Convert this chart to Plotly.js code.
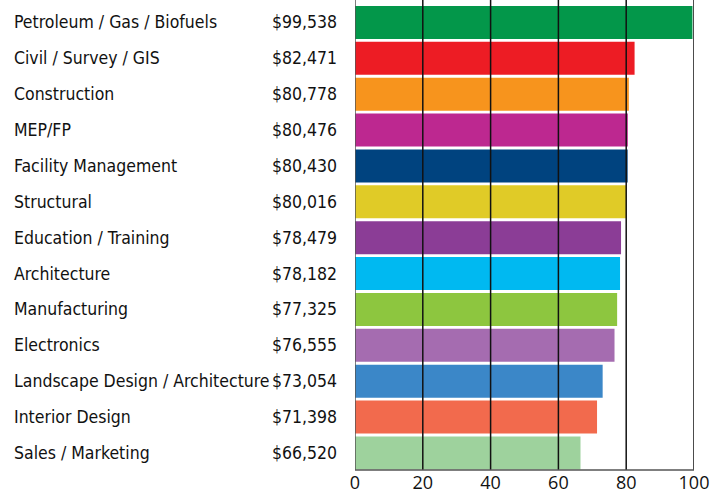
<!DOCTYPE html>
<html>
<head>
<meta charset="utf-8">
<script src="https://cdn.plot.ly/plotly-3.0.1.min.js"></script>
<style>html,body{margin:0;padding:0;background:#fff;}#chart{width:728px;height:494px;}</style>
</head>
<body>
<div id="chart"></div>
<script>
const categories = ["Petroleum / Gas / Biofuels","Civil / Survey / GIS","Construction","MEP/FP","Facility Management","Structural","Education / Training","Architecture","Manufacturing","Electronics","Landscape Design / Architecture","Interior Design","Sales / Marketing"];
const salaries = [99538,82471,80778,80476,80430,80016,78479,78182,77325,76555,73054,71398,66520];
const colors = ["#03974A","#ED1C24","#F7941D","#BD2890","#00437F","#E0CB27","#8B3D96","#00B9F1","#8DC63F","#A56CB0","#3B87C8","#F26A4D","#9ED29D"];
const tickVals = [0,20,40,60,80,100];

const xs = salaries.map(v => v/1000);
const labelFont = {family:"DejaVu Sans Condensed, Liberation Sans Narrow, sans-serif", size:17.5, color:"#111"};

const trace = {
  type:"bar", orientation:"h",
  x: xs, y: categories,
  marker:{color:colors, line:{width:0}},
  hoverinfo:"none"
};

const annotations = [];
categories.forEach((c,i)=>{
  annotations.push({xref:"paper", yref:"y", x:-1.013, y:c, text:c, showarrow:false, xanchor:"left", yanchor:"middle", font:labelFont});
  annotations.push({xref:"paper", yref:"y", x:-0.047, y:c, text:"$"+salaries[i].toLocaleString("en-US"), showarrow:false, xanchor:"right", yanchor:"middle", font:labelFont});
});

const shapes = tickVals.slice(1).map(t => ({type:"line", layer:"above", xref:"x", yref:"paper", x0:t, x1:t, y0:0, y1:1, line:{color:"#111", width:1.5}}));
shapes.push({type:"line", layer:"above", xref:"x", yref:"paper", x0:0, x1:0, y0:0, y1:1, line:{color:"#555", width:1.5}});
shapes.push({type:"line", layer:"above", xref:"paper", yref:"paper", x0:0, x1:1, y0:0, y1:0, line:{color:"#555", width:1.5}});

const layout = {
  width:728, height:494,
  margin:{l:355, r:34, t:0, b:24, pad:0},
  paper_bgcolor:"#fff", plot_bgcolor:"#fff",
  showlegend:false,
  bargap:0.08,
  xaxis:{range:[0,100], tickvals:tickVals, ticktext:tickVals.map(String), showgrid:false, zeroline:false, showline:false, ticks:"", tickfont:{family:"Open Sans, Lato, sans-serif", size:18, color:"#111"}, fixedrange:true},
  yaxis:{type:"category", range:[12.474,-0.627], showticklabels:false, showgrid:false, zeroline:false, showline:false, ticks:"", fixedrange:true},
  annotations:annotations,
  shapes:shapes
};

Plotly.newPlot("chart",[trace],layout,{displayModeBar:false, staticPlot:true});
</script>
</body>
</html>
